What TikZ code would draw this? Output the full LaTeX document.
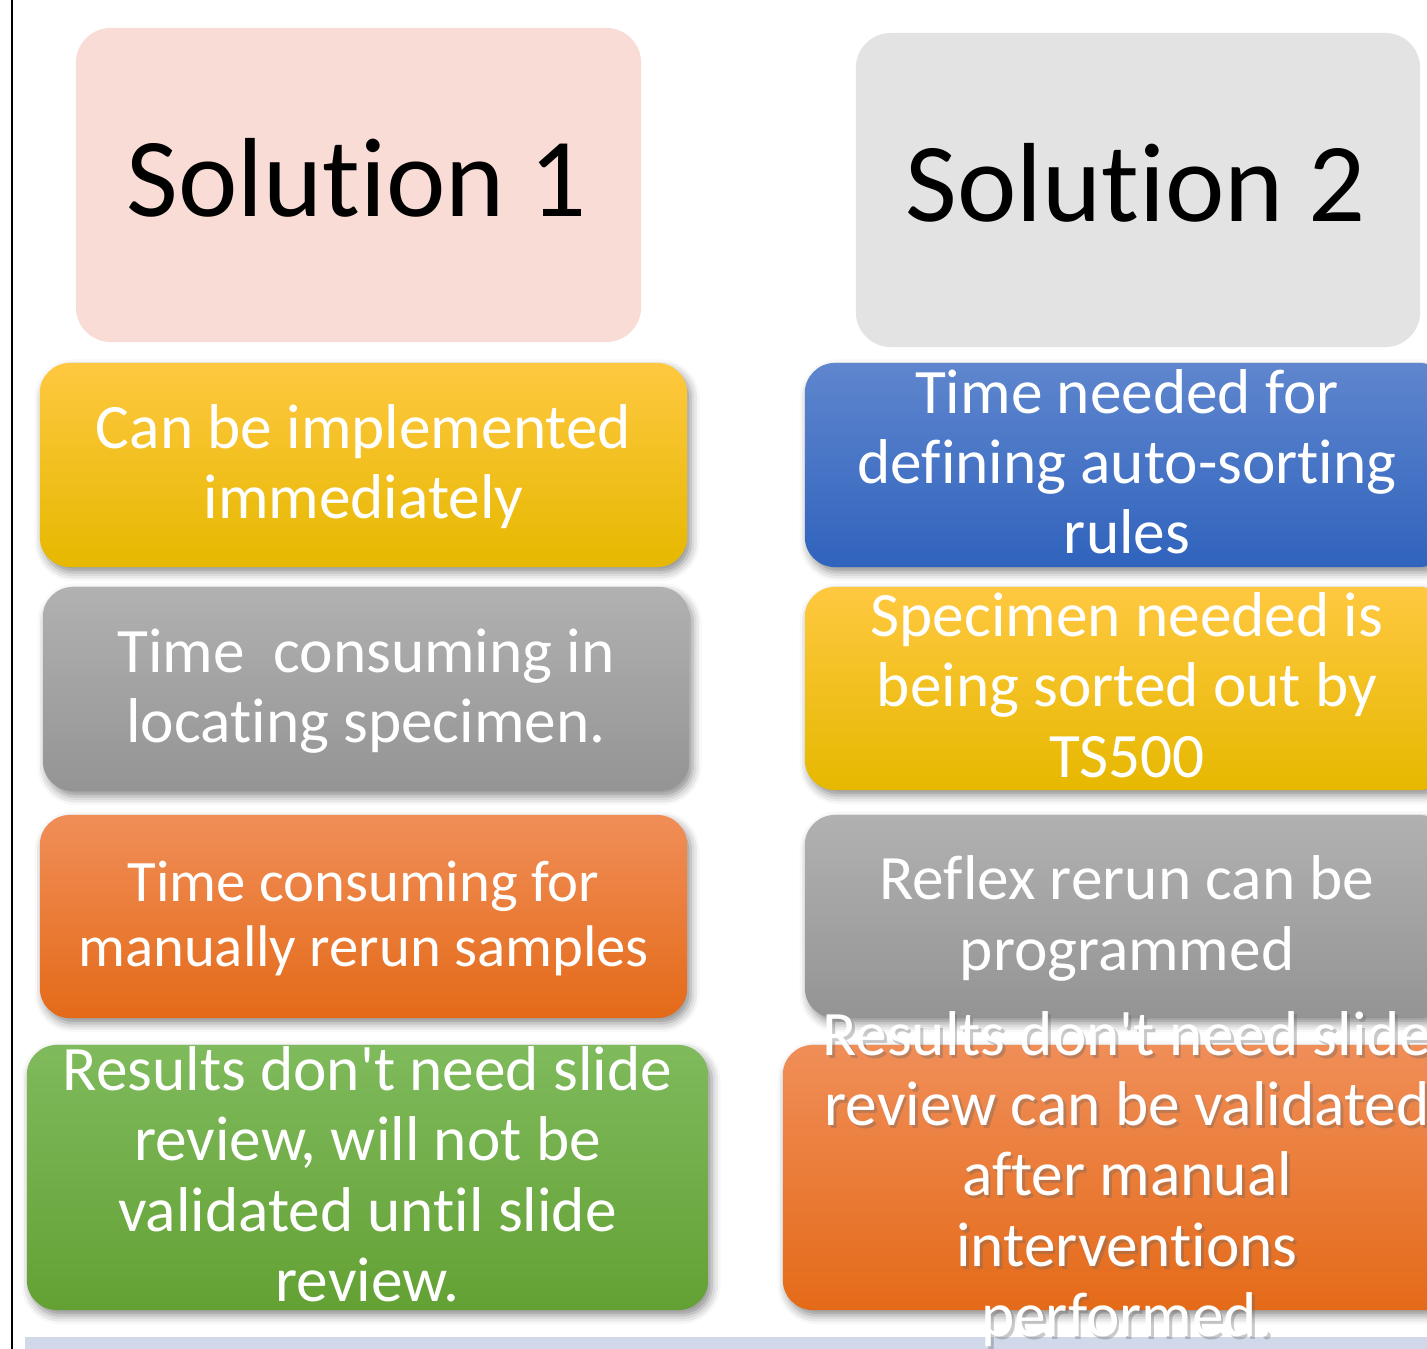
\documentclass[tikz,border=0pt]{standalone}
\usepackage{fontspec}
\setmainfont{Carlito}[Ligatures={TeX,NoCommon}]
\usetikzlibrary{shadows.blur}
\definecolor{solpink}{RGB}{248,220,213}
\definecolor{solgray}{RGB}{227,227,227}
\definecolor{ylwtop}{RGB}{255,200,64}
\definecolor{ylwmid}{RGB}{255,194,0}
\definecolor{ylwbot}{RGB}{230,184,0}
\definecolor{grytop}{RGB}{177,177,177}
\definecolor{grybot}{RGB}{148,148,148}
\definecolor{orgtop}{RGB}{240,142,88}
\definecolor{orgmid}{RGB}{242,122,40}
\definecolor{orgbot}{RGB}{228,106,24}
\definecolor{grntop}{RGB}{127,186,92}
\definecolor{grnbot}{RGB}{99,161,52}
\definecolor{blutop}{RGB}{95,134,206}
\definecolor{blubot}{RGB}{48,99,189}
\definecolor{strip}{RGB}{208,216,234}
\tikzset{
  box/.style={rectangle,rounded corners=0.3cm,inner sep=0pt,
    blur shadow={shadow xshift=1pt,shadow yshift=-1.5pt,shadow blur radius=2.5pt,shadow opacity=45}},
  yellowbox/.style={box,top color=ylwtop,middle color=ylwmid,bottom color=ylwbot},
  graybox/.style={box,top color=grytop,bottom color=grybot},
  orangebox/.style={box,top color=orgtop,middle color=orgmid,bottom color=orgbot},
  greenbox/.style={box,top color=grntop,bottom color=grnbot},
  bluebox/.style={box,top color=blutop,bottom color=blubot},
  boxtext/.style={text=white,align=center,inner sep=0pt,yshift=-0.07cm,font=\fontsize{18}{20}\selectfont,
    execute at begin node=\strut,execute at end node=\strut},
  titletext/.style={inner sep=0pt,anchor=base,font=\fontsize{32}{38}\selectfont}
}
\def\boxnode{\node[minimum width=6.44cm,minimum height=2.04cm]}

\begin{document}
\begin{tikzpicture}[x=0.01cm,y=-0.01cm]
\useasboundingbox (0,0) rectangle (1427,1349);
\clip (0,0) rectangle (1427,1349);
\draw[line width=0.6pt] (12,0) -- (12,1349);
\fill[strip] (25,1337) rectangle (1427,1349);
\node[rectangle,rounded corners=0.35cm,fill=solpink,minimum width=5.65cm,minimum height=3.14cm] (sol1) at (358.5,185) {};
\node[rectangle,rounded corners=0.35cm,fill=solgray,minimum width=5.64cm,minimum height=3.14cm] (sol2) at (1138,190) {};
\node[titletext] (sol1t) at (357,217) {Solution 1};
\node[titletext] (sol2t) at (1136,222) {Solution 2};
\boxnode[yellowbox,minimum width=6.47cm] (l1) at (363.5,465) {};
\boxnode[graybox,minimum width=6.46cm] (l2) at (366,689) {};
\boxnode[orangebox,minimum width=6.47cm,minimum height=2.03cm] (l3) at (363.5,916.5) {};
\boxnode[greenbox,minimum width=6.81cm,minimum height=2.65cm] (l4) at (367.5,1177.5) {};
\boxnode[bluebox] (r1) at (1127,465) {};
\boxnode[yellowbox,minimum height=2.03cm] (r2) at (1127,688.5) {};
\boxnode[graybox,minimum height=2.03cm] (r3) at (1127,916.5) {};
\boxnode[orangebox,minimum width=6.88cm,minimum height=2.65cm] (r4) at (1127,1177.5) {};
\node[boxtext] (l1t) at (l1) {Can be implemented\\immediately};
\node[boxtext] (l2t) at (l2) {Time\ \ consuming in\\locating specimen.};
\node[boxtext,font=\fontsize{16.7}{18.6}\selectfont] (l3t) at (l3) {Time consuming for\\manually rerun samples};
\node[boxtext] (l4t) at (l4) {Results don\textquotesingle t need slide\\review, will not be\\validated until slide\\review.};
\node[boxtext] (r1t) at (r1) {Time needed for\\defining auto-sorting\\rules};
\node[boxtext] (r2t) at (r2) {Specimen needed is\\being sorted out by\\TS500};
\node[boxtext] (r3t) at (r3) {Reflex rerun can be\\programmed};
\node[boxtext,text=black!60,text opacity=0.35,xshift=0.8pt,yshift=-0.8pt] (r4s) at (r4) {Results don\textquotesingle t need slide\\review can be validated\\after manual\\interventions\\performed.};
\node[boxtext] (r4t) at (r4) {Results don\textquotesingle t need slide\\review can be validated\\after manual\\interventions\\performed.};
\end{tikzpicture}
\end{document}
